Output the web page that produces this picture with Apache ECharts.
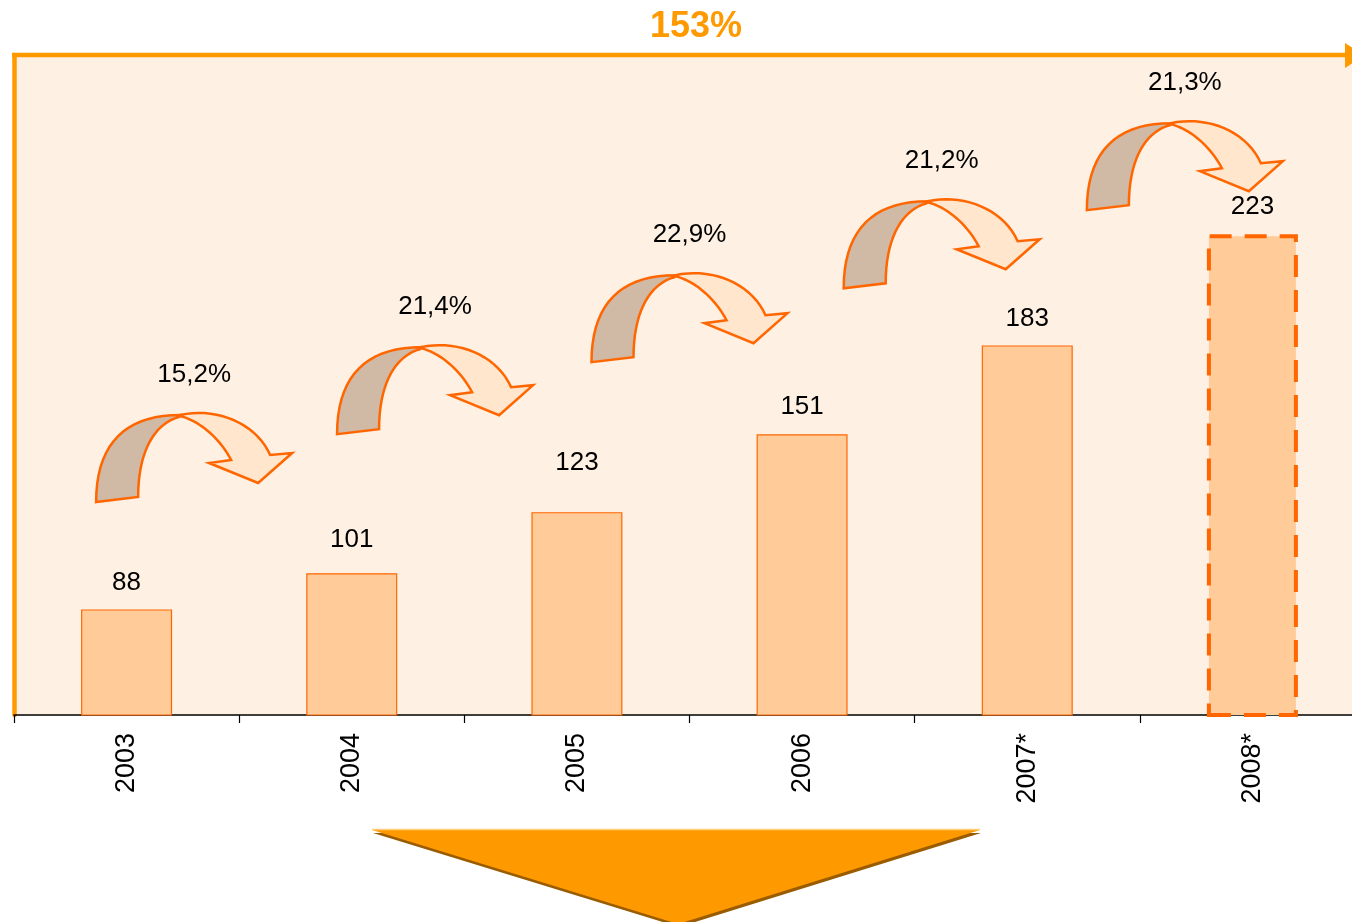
<!DOCTYPE html>
<html>
<head>
<meta charset="utf-8">
<script src="https://cdn.jsdelivr.net/npm/echarts@6/dist/echarts.min.js"></script>
<style>
  html,body{margin:0;padding:0;background:#fff;}
  #chart{width:1352px;height:922px;}
</style>
</head>
<body>
<div id="chart"></div>
<script>
// revenue by year, yoy growth between bars, total growth over the period
const years = ['2003','2004','2005','2006','2007*','2008*'];
const values = [88, 101, 123, 151, 183, 223];
const growth = ['15,2%', '21,4%', '22,9%', '21,2%', '21,3%'];
const total = '153%';
// callout layout: arrow centre (category units) and arrow top (value units)
const arrowAt = [[0.30, 159.4], [1.37, 183.8], [2.50, 209.7], [3.62, 236.3], [4.70, 264.4]];
// extra lift (px) of a few value labels, as placed in the original slide
const labelLift = [0, 6, 22, 0, 0, 0];

const C = {orange:'#FF9900', line:'#FF6600', bar:'#FFCC99', bg:'#FEF0E3', brown:'#D0B9A5', peach:'#FFE6CC'};
const FONT = '"Liberation Sans", Arial, sans-serif';

// cubic bezier sampler for the curved arrow outline
function bez(p0, p1, p2, p3, n){
  const out = [];
  for (let k = 1; k <= n; k++){
    const t = k / n, u = 1 - t;
    const a = u*u*u, b = 3*u*u*t, c = 3*u*t*t, d = t*t*t;
    out.push([a*p0[0]+b*p1[0]+c*p2[0]+d*p3[0], a*p0[1]+b*p1[1]+c*p2[1]+d*p3[1]]);
  }
  return out;
}
// arrow shape in a 196x91 local box (origin top-left)
const LEFT = [[0,91], ...bez([0,91],[0,32],[30,4],[84,4],18), [83,6], ...bez([83,6],[60,12],[42,38],[42,86],18)];
const RIGHT = [[84,4], ...bez([84,4],[120,-4],[160,12],[174,44],18), [196,42],[162,72],[113,52],[135,49],
  ...bez([135,49],[124,28],[104,10],[84,5],18)];

const chart = echarts.init(document.getElementById('chart'), null, {renderer:'canvas'});

const barData = values.map((v, i) => {
  const item = {value:v, label:{distance:14 + labelLift[i]}};
  if (i === values.length - 1) item.itemStyle = {color:C.bar, borderColor:C.line, borderWidth:4, borderType:[22,13]};
  return item;
});

chart.setOption({
  animation:false,
  textStyle:{fontFamily:FONT},
  grid:{left:14, top:55, width:1351, height:660, show:true, backgroundColor:C.bg, borderWidth:0,
    outerBoundsMode:'none', containLabel:false},
  xAxis:[{
    type:'category', data:years,
    axisLine:{lineStyle:{color:'#000', width:1.5}},
    axisTick:{show:true, alignWithLabel:false, length:8, lineStyle:{color:'#000', width:1.2}},
    axisLabel:{rotate:90, margin:18, fontSize:27, color:'#000', fontFamily:FONT}
  },{
    type:'value', min:-0.5, max:5.5, show:false
  }],
  yAxis:{
    type:'value', min:50, max:287.5,
    axisLine:{show:true, onZero:false, lineStyle:{color:C.orange, width:4.5}},
    axisTick:{show:false}, axisLabel:{show:false}, splitLine:{show:false}
  },
  series:[{
    type:'bar', data:barData, barWidth:91, xAxisIndex:0,
    itemStyle:{color:C.bar, borderColor:C.line, borderWidth:1.2},
    label:{show:true, position:'top', distance:14, fontSize:26, color:'#000', fontFamily:FONT}
  },{
    type:'custom', xAxisIndex:1, yAxisIndex:0, clip:false, z:5,
    data:arrowAt.map((a, i) => [a[0], a[1], i]),
    renderItem(params, api){
      const p = api.coord([api.value(0), api.value(1)]);
      const x0 = p[0] - 98, y0 = p[1];
      const mv = pts => pts.map(q => [x0 + q[0], y0 + q[1]]);
      return {type:'group', children:[
        {type:'polygon', shape:{points:mv(LEFT)}, style:{fill:C.brown, stroke:C.line, lineWidth:2.5, lineJoin:'miter'}},
        {type:'polygon', shape:{points:mv(RIGHT)}, style:{fill:C.peach, stroke:C.line, lineWidth:2.5, lineJoin:'miter'}},
        {type:'text', x:p[0], y:y0 - 36, style:{text:growth[api.value(2)], align:'center', verticalAlign:'middle',
          font:'26px ' + FONT, fill:'#000'}}
      ]};
    }
  }],
  graphic:[
    {type:'line', shape:{x1:12, y1:55, x2:1346, y2:55}, style:{stroke:C.orange, lineWidth:4.5}, z:10},
    {type:'polygon', shape:{points:[[1345,43],[1364,55.5],[1345,68]]}, style:{fill:C.orange}, z:10},
    {type:'text', x:696, y:27, style:{text:total, align:'center', verticalAlign:'middle',
      font:'bold 36px ' + FONT, fill:C.orange}, z:10},
    {type:'polygon', shape:{points:[[372,830],[980,830],[678,924]]},
      style:{fill:C.orange, shadowColor:'#9A5C00', shadowOffsetX:1, shadowOffsetY:3, shadowBlur:0}, z:10},
    {type:'line', shape:{x1:372, y1:829.5, x2:980, y2:829.5}, style:{stroke:'#FFCF7A', lineWidth:1.5}, z:11}
  ]
});
</script>
</body>
</html>
